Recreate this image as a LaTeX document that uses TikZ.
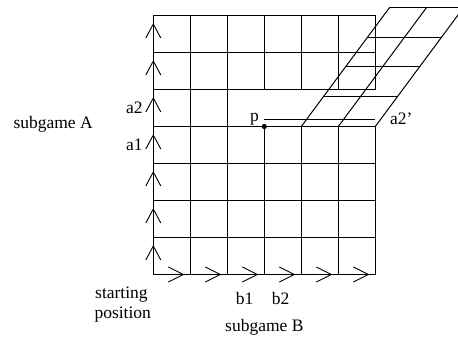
\documentclass[tikz,border=0pt]{standalone}
\usepackage{fontspec}
\setmainfont{Liberation Serif}
\begin{document}
\begin{tikzpicture}[x=1pt,y=-1pt,
  gridline/.style={line width=1pt, line cap=rect},
  chev/.style={line width=0.9pt},
  boldline/.style={line width=1.7pt},
  lbl/.style={anchor=base west, inner sep=0pt, font=\fontsize{17.5}{20}\selectfont}]
\useasboundingbox (0,0) rectangle (458,341);
% main grid: 6 columns x 7 rows, cell 37
\foreach \j in {0,1,2,4,5,6,7}
  \draw[gridline] (153.3,15.5+37*\j) -- (375.3,15.5+37*\j);
\coordinate (g30) at (153.3,126.5);
\coordinate (p) at (264.3,126.5);
\coordinate (pend) at (375.3,126.5);
\draw[gridline] (g30) -- (p);
\draw[boldline] (p) -- (pend);
\foreach \i in {0,1,2}
  \draw[gridline] (153.3+37*\i,15.5) -- (153.3+37*\i,274.5);
\foreach \i in {3,4,5,6}{
  \draw[gridline] (153.3+37*\i,15.5) -- (153.3+37*\i,89.5);
  \draw[gridline] (153.3+37*\i,126.5) -- (153.3+37*\i,274.5);
}
% thin line above p
\coordinate (q) at (264.3,119);
\coordinate (qend) at (375.3,119);
\draw[line width=1pt] (q) -- (qend);
\fill (p) circle (2.6pt);
% sheared grid
\begin{scope}
\clip (0,0) rectangle (458,341);
\foreach \k in {0,1,2}
  \draw[line width=1pt] (301.3+37*\k,126.5) -- ++(88.4,-119.2);
\foreach \r in {1,2,3,4}
  \draw[line width=1pt] (301.3+22.1*\r,126.5-29.8*\r) -- ++(74,0);
\end{scope}
% chevrons
\foreach \j in {0,...,6}
  \draw[chev] (145.8,15.5+37*\j+22.5) -- (153.3,15.5+37*\j+8.5) -- (160.8,15.5+37*\j+22.5);
\foreach \i in {1,...,6}
  \draw[chev] (153.3+37*\i-22,267) -- (153.3+37*\i-7,274.5) -- (153.3+37*\i-22,282);
% labels
\node[lbl] (sA) at (13.3,128.3) {subgame A};
\node[lbl] (a2) at (126,113) {a2};
\node[lbl] (a1) at (126,150) {a1};
\node[lbl] (plbl) at (250,121.5) {p};
\node[lbl] (a2p) at (390,124) {a2’};
\node[lbl] (st) at (95,298.3) {starting};
\node[lbl] (pos) at (94.3,318.3) {position};
\node[lbl] (b1) at (235.7,304) {b1};
\node[lbl] (b2) at (271.7,304) {b2};
\node[lbl] (sB) at (225,331.7) {subgame B};
\end{tikzpicture}
\end{document}
